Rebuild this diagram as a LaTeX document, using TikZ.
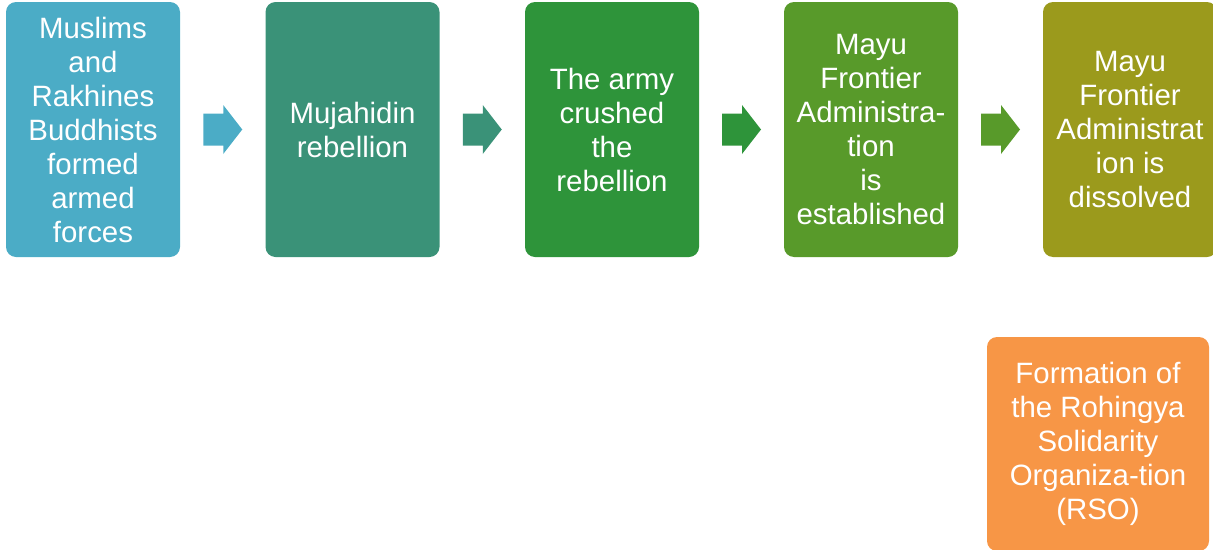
\documentclass[tikz,border=0pt]{standalone}
\usepackage{fontspec}
\setmainfont{Liberation Sans}
\usepackage{xcolor}
\usetikzlibrary{calc}

\definecolor{stepA}{HTML}{4BACC6}
\definecolor{stepB}{HTML}{3A9278}
\definecolor{stepC}{HTML}{2E943A}
\definecolor{stepD}{HTML}{589A2A}
\definecolor{stepE}{HTML}{9B9A1C}
\definecolor{stepF}{HTML}{F79646}

\begin{document}
\begin{tikzpicture}[x=1pt,y=-1pt]
\tikzstyle{every node}=[font=\fontsize{29.4}{34}\selectfont, text=white, align=center]
\tikzstyle{stage}=[rounded corners=10pt, minimum width=174pt, minimum height=255pt, inner sep=0pt,
  execute at begin node={\rule{0pt}{29.5pt}}]
\clip (0,0) rectangle (1213,549);
\useasboundingbox (0,0) rectangle (1213,549);
\node [stage, fill=stepA] (muslims) at (93,129.5) {Muslims\\and\\Rakhines\\Buddhists\\formed\\armed\\forces};
\node [stage, fill=stepB] (mujahidin) at (352.5,129.5) {Mujahidin\\rebellion};
\node [stage, fill=stepC] (crushed) at (612,129.5) {The army\\crushed\\the\\rebellion};
\node [stage, fill=stepD] (established) at (871,129.5) {Mayu\\Frontier\\Administra-\\tion\\is\\established};
\node [stage, fill=stepE] (dissolved) at (1130,129.5) {Mayu\\Frontier\\Administrat\\ion is\\dissolved};
\node [stage, fill=stepF, minimum width=222pt, minimum height=214pt] (rso) at (1098,444) {Formation of\\the Rohingya\\Solidarity\\Organiza-tion\\(RSO)};
% block arrows
\coordinate (m1) at ($(muslims.east)!0.5!(mujahidin.west)$);
\coordinate (m2) at ($(mujahidin.east)!0.5!(crushed.west)$);
\coordinate (m3) at ($(crushed.east)!0.5!(established.west)$);
\coordinate (m4) at ($(established.east)!0.5!(dissolved.west)$);
\fill [stepA] ($(m1)+(-19.5,-16)$) -- ++(20,0) -- ++(0,-8.5) -- ++(19,24.5) -- ++(-19,24.5) -- ++(0,-8.5) -- ++(-20,0) -- cycle;
\fill [stepB] ($(m2)+(-19.5,-16)$) -- ++(20,0) -- ++(0,-8.5) -- ++(19,24.5) -- ++(-19,24.5) -- ++(0,-8.5) -- ++(-20,0) -- cycle;
\fill [stepC] ($(m3)+(-19.5,-16)$) -- ++(20,0) -- ++(0,-8.5) -- ++(19,24.5) -- ++(-19,24.5) -- ++(0,-8.5) -- ++(-20,0) -- cycle;
\fill [stepD] ($(m4)+(-19.5,-16)$) -- ++(20,0) -- ++(0,-8.5) -- ++(19,24.5) -- ++(-19,24.5) -- ++(0,-8.5) -- ++(-20,0) -- cycle;
\end{tikzpicture}
\end{document}
